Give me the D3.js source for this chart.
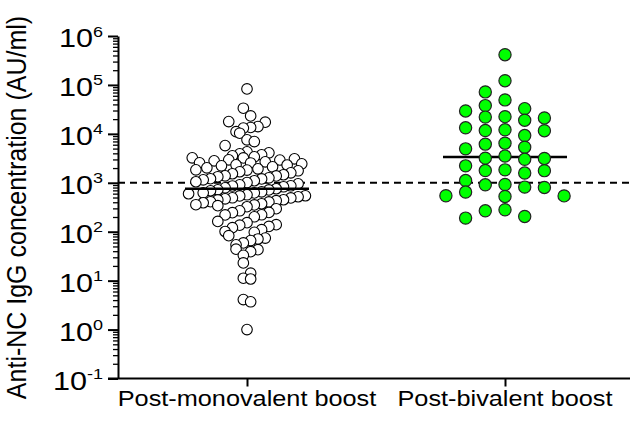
<!DOCTYPE html>
<html>
<head>
<meta charset="utf-8">
<script src="https://cdn.jsdelivr.net/npm/d3@7"></script>
<style>
  body { margin: 0; background: #fff; }
  text { font-family: "Liberation Sans", Arial, sans-serif; fill: #000; }
</style>
</head>
<body>
<svg id="chart" width="630" height="423"></svg>
<script>
// groups on the x axis
var categories = ["Post-monovalent boost", "Post-bivalent boost"];

// Anti-NC IgG (AU/ml)
var monovalent = [
  83000, 33400, 23300, 17800, 17300, 14100, 13500, 13100, 11100, 10300, 7550, 6970, 5770,
  4300, 4100, 3910, 3730, 3560, 3400, 3240, 3220, 3090, 2950, 2920, 2810, 2680,
  2560, 2540, 2440, 2330, 2310, 2220, 2120, 2020, 1930, 1840, 1820, 1760, 1680, 1600,
  1530, 1460, 1390, 1380, 1330, 1260, 1210, 1200, 1150, 1100, 1050, 1010, 955, 910,
  869, 860, 829, 791, 755, 720, 715, 687, 655, 625, 620, 597, 569, 543, 540,
  518, 494, 490, 471, 450, 447, 430, 410, 407, 391, 373, 356, 353, 340, 324,
  295, 268, 248, 245, 222, 220, 202, 162, 153, 139, 136, 128, 121, 110, 101, 97,
  83, 74, 71, 66, 59, 54, 44, 43, 39, 33, 23, 14.2, 11.2, 10.8, 4.1, 3.7, 1.0
];
var bivalent = [
  415000, 122000, 72000, 49400, 37800, 32800, 29400, 22500, 22000, 21200,
  19000, 13300, 12100, 11700, 11600, 9230, 6460, 6160, 5350, 4940,
  3510, 3190, 3150, 3020, 2220, 1840, 1780, 1770, 1580, 1110,
  923, 910, 817, 802, 646, 543, 540, 525, 281, 268, 205, 190
];

var cutoff = 1000;
var majorTicks = [0.1, 1, 10, 100, 1000, 10000, 100000, 1000000];
var tickExponents = ["-1", "0", "1", "2", "3", "4", "5", "6"];
var yTitle = "Anti-NC IgG concentration (AU/ml)";

var svg = d3.select("#chart");

var y = d3.scaleLog()
    .domain([0.1, 1e6])
    .range([378.5, 36]);

var x = d3.scalePoint()
    .domain(categories)
    .range([118, 634])
    .padding(0.5);

function gcd(a, b) { return b ? gcd(b, a % b) : a; }

// Prism-like rows: dots close in y share a row and are spread around the centre
function rows(vals, cx, step, h) {
    var pts = vals.map(function(v) { return {v: v, y: y(v)}; })
        .sort(function(a, b) { return a.y - b.y; });
    var groups = [], cur = null;
    pts.forEach(function(p) {
        if (!cur || p.y - cur[0].y >= h) { cur = [p]; groups.push(cur); }
        else cur.push(p);
    });
    groups.forEach(function(g) {
        var n = g.length;
        var k = Math.max(1, Math.round(n * 0.45));
        while (gcd(k, n) !== 1) k++;
        g.forEach(function(p, i) {
            var slot = (i * k) % n;
            p.x = cx + (slot - (n - 1) / 2) * step;
        });
    });
    return pts;
}

// columns at fixed spacing, nearest free column to the centre
function dodge(vals, cx, step, minDist) {
    var placed = [];
    vals.slice().sort(function(a, b) { return b - a; }).forEach(function(v) {
        var py = y(v);
        for (var k = 0; k < 200; k++) {
            var n = k === 0 ? 0 : (k % 2 ? -Math.ceil(k / 2) : k / 2);
            var px = cx + n * step;
            var ok = placed.every(function(p) {
                return Math.hypot(p.x - px, p.y - py) >= minDist;
            });
            if (ok) { placed.push({v: v, x: px, y: py}); break; }
        }
    });
    return placed;
}

// cutoff line
svg.append("line")
    .attr("x1", 118).attr("x2", 630)
    .attr("y1", y(cutoff)).attr("y2", y(cutoff))
    .style("stroke", "#000")
    .style("stroke-width", 2)
    .style("stroke-dasharray", "7,5");

var medHalf = 62;

// monovalent group
var cx0 = x(categories[0]);
svg.append("g").selectAll("circle")
    .data(rows(monovalent, cx0, 7.3, 11.5))
    .enter()
    .append("circle")
    .attr("cx", function(d) { return d.x; })
    .attr("cy", function(d) { return d.y; })
    .attr("r", 5.3)
    .style("fill", "#fff")
    .style("stroke", "#000")
    .style("stroke-width", 1.1);

svg.append("line")
    .attr("x1", cx0 - medHalf).attr("x2", cx0 + medHalf)
    .attr("y1", y(d3.median(monovalent))).attr("y2", y(d3.median(monovalent)))
    .style("stroke", "#000")
    .style("stroke-width", 2.5);

// bivalent group
var cx1 = x(categories[1]);
svg.append("line")
    .attr("x1", cx1 - medHalf).attr("x2", cx1 + medHalf)
    .attr("y1", y(d3.median(bivalent))).attr("y2", y(d3.median(bivalent)))
    .style("stroke", "#000")
    .style("stroke-width", 2.5);

svg.append("g").selectAll("circle")
    .data(dodge(bivalent, cx1, 19.7, 11.5))
    .enter()
    .append("circle")
    .attr("cx", function(d) { return d.x; })
    .attr("cy", function(d) { return d.y; })
    .attr("r", 6.1)
    .style("fill", "#00ff00")
    .style("stroke", "#222")
    .style("stroke-width", 1.2);

// y axis: minor ticks and spine
var yAxis = svg.append("g")
    .attr("transform", "translate(118,0)")
    .call(d3.axisLeft(y)
        .tickValues(y.ticks().filter(function(t) { return majorTicks.indexOf(t) < 0; }))
        .tickSize(5)
        .tickSizeOuter(0)
        .tickFormat(""));
yAxis.selectAll(".tick line").style("stroke-width", 1.3);
yAxis.select(".domain").style("stroke-width", 2);

// major ticks
var major = svg.append("g")
    .attr("transform", "translate(118,0)")
    .call(d3.axisLeft(y).tickValues(majorTicks).tickSize(10).tickFormat(""));
major.select(".domain").remove();
major.selectAll(".tick line").style("stroke-width", 2);

// power-of-ten labels
var labels = svg.append("g").selectAll("text")
    .data(majorTicks)
    .enter()
    .append("text")
    .attr("transform", function(d) { return "translate(103," + (y(d) + 11) + ") scale(1.2,1)"; })
    .attr("text-anchor", "end")
    .style("font-size", "25.5px");
labels.append("tspan").text("10");
labels.append("tspan")
    .attr("dy", -10.5)
    .style("font-size", "15px")
    .text(function(d, i) { return tickExponents[i]; });

// x axis
var xAxis = svg.append("g")
    .attr("transform", "translate(0," + y(0.1) + ")")
    .call(d3.axisBottom(x).tickSize(8).tickSizeOuter(0).tickFormat(""));
xAxis.select(".domain").remove();
xAxis.selectAll(".tick line").style("stroke-width", 2);

svg.append("g").selectAll("text")
    .data(categories)
    .enter()
    .append("text")
    .attr("transform", function(d) { return "translate(" + x(d) + ",406) scale(1.15,1)"; })
    .attr("text-anchor", "middle")
    .style("font-size", "22px")
    .text(function(d) { return d; });

svg.append("line")
    .attr("x1", 108).attr("x2", 630)
    .attr("y1", y(0.1)).attr("y2", y(0.1))
    .style("stroke", "#000")
    .style("stroke-width", 2);

// y title
svg.append("text")
    .attr("transform", "translate(26,207.5) scale(1.1,1) rotate(-90)")
    .attr("text-anchor", "middle")
    .style("font-size", "25px")
    .text(yTitle);
</script>
</body>
</html>
